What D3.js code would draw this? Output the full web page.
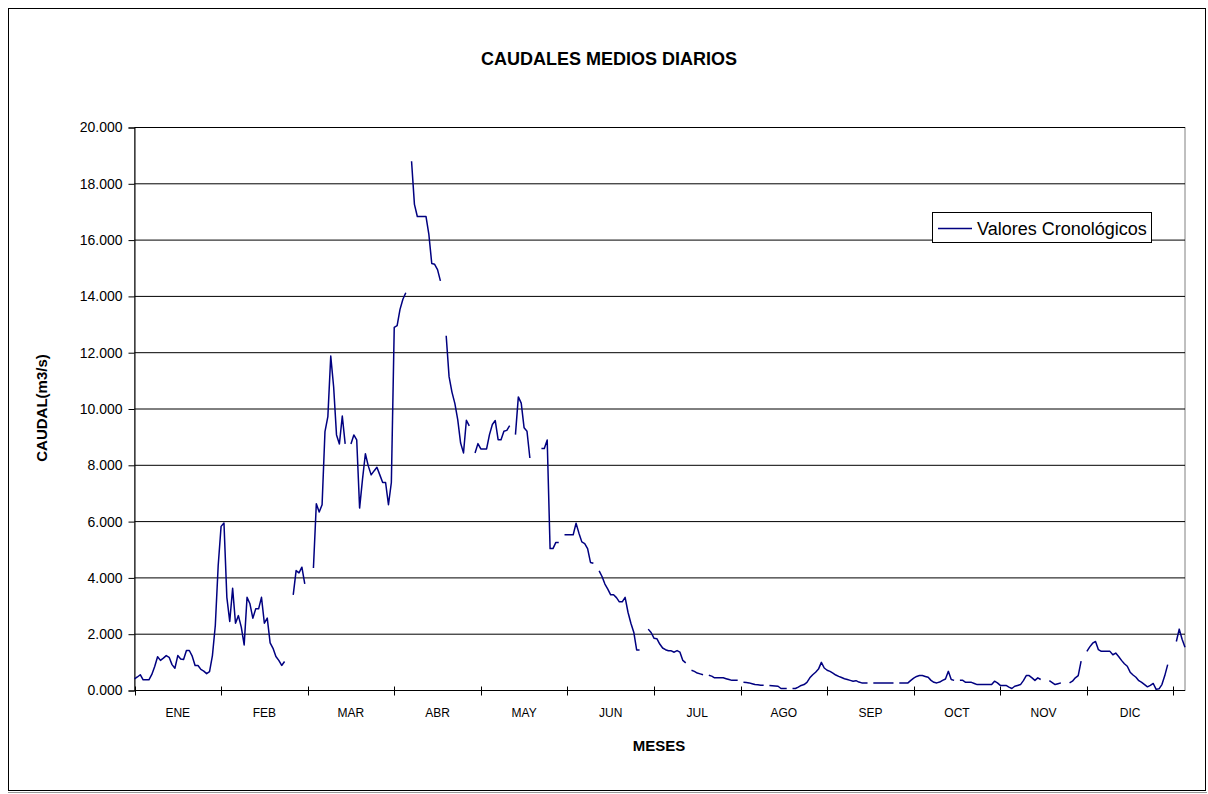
<!DOCTYPE html>
<html>
<head>
<meta charset="utf-8">
<script src="https://cdn.jsdelivr.net/npm/d3@7/dist/d3.min.js"></script>
<style>
    body { margin: 0; background: #fff; font-family: "Liberation Sans", Arial, sans-serif; }
    svg text { fill: #000; }
</style>
</head>
<body>
<div id="container"><svg></svg></div>
<script>
// meses del eje x
let months = ['ENE', 'FEB', 'MAR', 'ABR', 'MAY', 'JUN', 'JUL', 'AGO', 'SEP', 'OCT', 'NOV', 'DIC'];
// marcas del eje y
let yTicks = [0, 2, 4, 6, 8, 10, 12, 14, 16, 18, 20];
// caudal medio diario (miles de m3/s), null = sin dato
let caudal = [
    // ENE
    0.41, 0.48, 0.56, 0.38, 0.38, 0.38, 0.57, 0.85, 1.2, 1.07, 1.15, 1.24, 1.18, 0.92, 0.79, 1.24,
    1.12, 1.1, 1.42, 1.42, 1.22, 0.89, 0.89, 0.75, 0.69, 0.6, 0.67, 1.24, 2.31, 4.44,
    // FEB
    5.83, 5.95, 3.31, 2.45, 3.63, 2.39, 2.66, 2.25, 1.62, 3.31, 3.08, 2.57, 2.9, 2.9, 3.31,
    2.39, 2.57, 1.69, 1.5, 1.21, 1.07, 0.89, 1.03, null, null, 3.4, 4.26, 4.18, 4.38, 3.79,
    // MAR
    null, null, 4.35, 6.63, 6.34, 6.6, 9.2, 9.73, 11.88, 10.79, 9.08, 8.76, 9.75, 8.76, null,
    8.76, 9.08, 8.9, 6.48, 7.5, 8.41, 7.98, 7.66, 7.8, 7.93, 7.66, 7.39, 7.39, 6.6, 7.39,
    // ABR
    12.9, 12.96, 13.54, 13.9, 14.13, null, 18.8, 17.27, 16.84, 16.84, 16.84, 16.84, 16.2, 15.17, 15.14,
    14.95, 14.55, null, 12.6, 11.15, 10.6, 10.2, 9.62, 8.79, 8.44, 9.6, 9.4, null, 8.44, 8.77,
    // MAY
    8.58, 8.58, 8.58, 9.09, 9.45, 9.59, 8.91, 8.91, 9.21, 9.24, 9.41, null, 9.09, 10.43, 10.21,
    9.33, 9.21, 8.26, null, null, null, 8.6, 8.6, 8.9, 5.04, 5.04, 5.26, 5.26, null, 5.53,
    // JUN
    5.53, 5.53, 5.53, 5.94, 5.59, 5.28, 5.22, 5.04, 4.55, 4.52, null, 4.25, 4.05, 3.78, 3.6,
    3.4, 3.4, 3.3, 3.15, 3.15, 3.31, 2.78, 2.39, 2.07, 1.44, 1.44, null, null, 2.18, 2.06,
    // JUL
    1.86, 1.84, 1.65, 1.51, 1.45, 1.41, 1.41, 1.36, 1.42, 1.36, 1.07, 0.98, null, 0.72, 0.68,
    0.62, 0.59, 0.56, null, 0.54, 0.51, 0.45, 0.45, 0.45, 0.45, 0.42, 0.39, 0.36, 0.36, 0.36,
    // AGO
    null, 0.29, 0.28, 0.27, 0.24, 0.21, 0.2, 0.19, 0.19, null, 0.18, 0.17, 0.16, 0.15, 0.07,
    0.07, 0.07, null, 0.07, 0.07, 0.12, 0.18, 0.21, 0.29, 0.45, 0.56, 0.65, 0.76, 1.0, 0.8,
    // SEP
    0.72, 0.68, 0.62, 0.55, 0.5, 0.46, 0.42, 0.39, 0.36, 0.33, 0.35, 0.3, 0.27, 0.27, 0.27,
    null, 0.27, 0.27, 0.27, 0.27, 0.27, 0.27, 0.27, 0.27, null, 0.27, 0.27, 0.27, 0.27, 0.36,
    // OCT
    0.44, 0.5, 0.53, 0.53, 0.5, 0.47, 0.36, 0.29, 0.27, 0.3, 0.36, 0.41, 0.68, 0.39, 0.36,
    null, 0.36, 0.36, 0.29, 0.29, 0.29, 0.25, 0.21, 0.21, 0.21, 0.21, 0.21, 0.21, 0.33, 0.27,
    // NOV
    0.18, 0.18, 0.18, 0.12, 0.07, 0.15, 0.18, 0.21, 0.35, 0.53, 0.53, 0.45, 0.36, 0.45, 0.39,
    null, null, 0.35, 0.28, 0.21, 0.24, 0.27, null, null, 0.27, 0.33, 0.45, 0.53, 1.04, null,
    // DIC
    1.39, 1.55, 1.68, 1.74, 1.45, 1.39, 1.39, 1.39, 1.39, 1.27, 1.33, 1.21, 1.07, 0.95, 0.86,
    0.65, 0.55, 0.47, 0.35, 0.29, 0.21, 0.13, 0.18, 0.25, 0.04, 0.06, 0.21, 0.53, 0.92, null,
    null, 1.74, 2.18, 1.82, 1.54
];

let width = 1208;
let height = 794;
let daysPerTick = 30;

function draw_chart() {
    let plot = {'left': 134.5, 'right': 1185, 'top': 127.5, 'bottom': 690.5};

    let svg = d3.select('#container')
        .select('svg')
        .attr('width', width)
        .attr('height', height);

    // marco exterior
    svg.append('rect')
        .attr('x', 8.5).attr('y', 8.5)
        .attr('width', 1197).attr('height', 782)
        .attr('fill', 'none')
        .attr('stroke', '#000');
    svg.append('line')
        .attr('x1', 8).attr('x2', 1207)
        .attr('y1', 792.5).attr('y2', 792.5)
        .attr('stroke', '#999');

    let x = d3.scaleLinear()
        .domain([0, caudal.length - 1])
        .range([plot.left, plot.right]);
    let y = d3.scaleLinear()
        .domain([0, 20])
        .range([plot.bottom, plot.top]);

    // borde del area de trazado
    svg.append('rect')
        .attr('x', plot.left).attr('y', plot.top)
        .attr('width', plot.right - plot.left)
        .attr('height', plot.bottom - plot.top)
        .attr('fill', 'none')
        .attr('stroke', '#808080');

    // lineas de division
    svg.append('g')
        .selectAll('line')
        .data(yTicks.filter(d => d > 0))
        .enter()
        .append('line')
        .attr('x1', plot.left).attr('x2', plot.right)
        .attr('y1', d => y(d)).attr('y2', d => y(d))
        .attr('stroke', '#000')
        .attr('stroke-width', 1);

    // eje y
    let yAxis = d3.axisLeft(y)
        .tickValues(yTicks)
        .tickSize(6)
        .tickPadding(6)
        .tickFormat(d => d3.format('.3f')(d));
    let gy = svg.append('g')
        .attr('transform', `translate(${plot.left},0)`)
        .call(yAxis);
    gy.select('.domain').attr('stroke', '#000');
    gy.selectAll('.tick line').attr('stroke', '#000');
    gy.selectAll('text')
        .style('font-family', '"Liberation Sans", Arial, sans-serif')
        .style('font-size', '14px')
        .attr('fill', '#000');

    // eje x
    let tickIdx = d3.range(0, months.length + 1).map(i => i * daysPerTick);
    let gx = svg.append('g');
    gx.append('line')
        .attr('x1', plot.left).attr('x2', plot.right)
        .attr('y1', plot.bottom).attr('y2', plot.bottom)
        .attr('stroke', '#000');
    gx.selectAll('.tk')
        .data(tickIdx)
        .enter()
        .append('line')
        .attr('class', 'tk')
        .attr('x1', d => Math.round(x(d)) + 0.5).attr('x2', d => Math.round(x(d)) + 0.5)
        .attr('y1', plot.bottom - 4).attr('y2', plot.bottom + 5)
        .attr('stroke', '#000');
    gx.selectAll('.mes')
        .data(months)
        .enter()
        .append('text')
        .attr('class', 'mes')
        .attr('x', (d, i) => x((i + 0.5) * daysPerTick))
        .attr('y', 717)
        .attr('text-anchor', 'middle')
        .style('font-size', '12px')
        .text(d => d);

    // serie
    let line = d3.line()
        .defined(d => d != null)
        .x((d, i) => x(i))
        .y(d => y(d));
    svg.append('path')
        .datum(caudal)
        .attr('d', line)
        .attr('fill', 'none')
        .attr('stroke', '#000080')
        .attr('stroke-width', 1.5)
        .attr('stroke-linejoin', 'round');

    // titulos
    svg.append('text')
        .attr('x', 609).attr('y', 65)
        .attr('text-anchor', 'middle')
        .style('font-size', '18px')
        .style('font-weight', 'bold')
        .text('CAUDALES MEDIOS DIARIOS');
    svg.append('text')
        .attr('x', 659).attr('y', 751)
        .attr('text-anchor', 'middle')
        .style('font-size', '15px')
        .style('font-weight', 'bold')
        .text('MESES');
    svg.append('text')
        .attr('transform', 'translate(47,408) rotate(-90)')
        .attr('text-anchor', 'middle')
        .style('font-size', '15px')
        .style('font-weight', 'bold')
        .text('CAUDAL(m3/s)');

    // leyenda
    let lg = svg.append('g');
    lg.append('rect')
        .attr('x', 932.5).attr('y', 212.5)
        .attr('width', 219).attr('height', 30)
        .attr('fill', '#fff')
        .attr('stroke', '#000');
    lg.append('line')
        .attr('x1', 938).attr('x2', 972)
        .attr('y1', 228.5).attr('y2', 228.5)
        .attr('stroke', '#000080')
        .attr('stroke-width', 1.5);
    lg.append('text')
        .attr('x', 977).attr('y', 235)
        .style('font-size', '18px')
        .text('Valores Cronológicos');
}

draw_chart();
</script>
</body>
</html>
